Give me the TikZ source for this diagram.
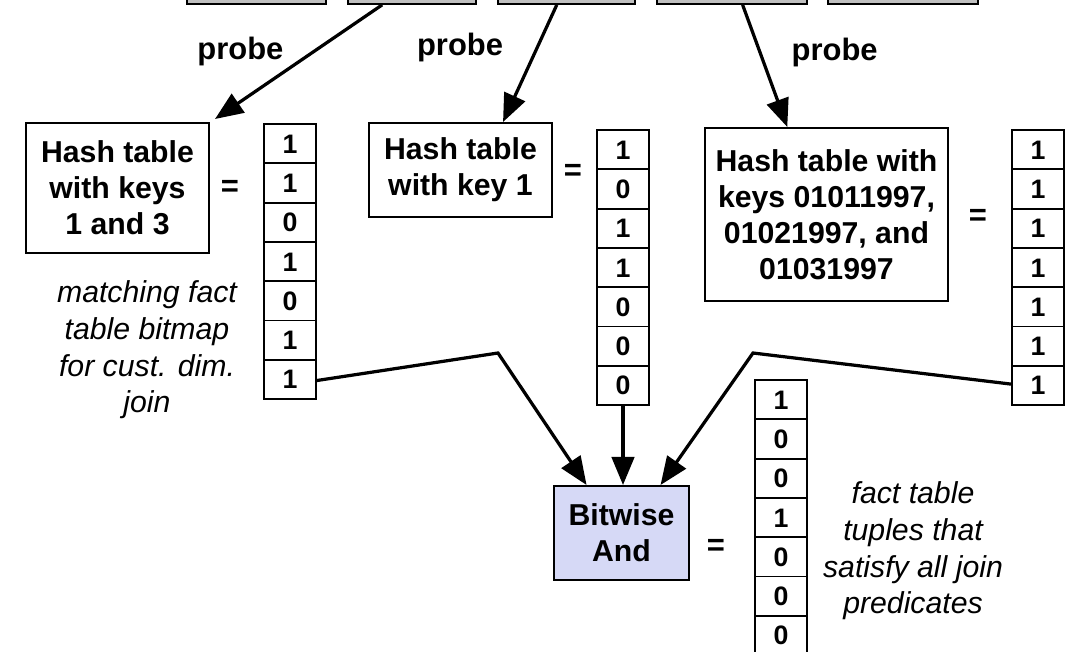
\documentclass[tikz,border=0pt]{standalone}
\usepackage{fontspec}
\setmainfont{Liberation Sans}
\usetikzlibrary{arrows.meta,shapes.multipart,positioning,calc}

\definecolor{dimgrey}{RGB}{192,192,192}
\definecolor{andblue}{RGB}{214,217,246}

\newcommand{\bitc}[1]{\rule[-6.5pt]{0pt}{26.55pt}#1}
\newcommand{\bitcol}[7]{\bitc{#1}\nodepart{two}\bitc{#2}\nodepart{three}\bitc{#3}\nodepart{four}\bitc{#4}\nodepart{five}\bitc{#5}\nodepart{six}\bitc{#6}\nodepart{seven}\bitc{#7}}

\tikzset{
  dimbox/.style={draw, fill=dimgrey, line width=1.2pt, minimum height=1cm},
  hashbox/.style={draw, line width=1.4pt, align=center, font=\bfseries\fontsize{21.5}{25.6}\selectfont},
  bitmap/.style={draw, line width=1.4pt, rectangle split, rectangle split parts=7, minimum width=1.3cm,
    inner xsep=0pt, inner ysep=0pt, anchor=north, font=\bfseries\fontsize{19}{20}\selectfont},
  eqsign/.style={font=\bfseries\fontsize{22}{25}\selectfont},
  note/.style={align=center, font=\itshape\fontsize{21.5}{26}\selectfont},
  lbl/.style={font=\bfseries\fontsize{22}{24}\selectfont},
  probearrow/.style={-{Triangle[length=20pt,width=16pt]}, line width=2.3pt},
  joinarrow/.style={-{Triangle[length=20pt,width=16pt]}, line width=2.3pt}
}

\begin{document}
\begin{tikzpicture}[x=0.025cm, y=-0.025cm]
\useasboundingbox (0,0) rectangle (1068,652);

% dimension tables, cut off by the top edge
\node[dimbox, minimum width=3.475cm] (dim1) at (256.5,-16) {};
\node[dimbox, minimum width=3.2cm] (dim2) at (412,-16) {};
\node[dimbox, minimum width=3.425cm] (dim3) at (566.5,-16) {};
\node[dimbox, minimum width=3.75cm] (dim4) at (732,-16) {};
\node[dimbox, minimum width=3.75cm] (dim5) at (903,-16) {};

% customer
\node[hashbox, minimum width=4.575cm, minimum height=3.25cm] (hashA) at (117.5,188) {Hash table\\with keys\\1 and 3};
\node[eqsign] (eqA) at (230,188) {=};
\node[bitmap] (bitsA) at (290,123) {\bitcol1101011};
\node[note] (noteA) at (147,350) {matching fact\\table bitmap\\for cust. dim.\\join};

% key 1
\node[hashbox, minimum width=4.575cm, minimum height=2.35cm] (hashB) at (460.5,170) {Hash table\\with key 1};
\node[eqsign] (eqB) at (573,172) {=};
\node[bitmap] (bitsB) at (623,129) {\bitcol1011000};

% dates
\node[hashbox, minimum width=6.075cm, minimum height=4.325cm] (hashC) at (826.5,214.5) {Hash table with\\keys 01011997,\\01021997, and\\01031997};
\node[eqsign] (eqC) at (978,217) {=};
\node[bitmap] (bitsC) at (1038,129) {\bitcol1111111};

% result
\node[hashbox, fill=andblue, minimum width=3.375cm, minimum height=2.35cm] (andBox) at (621.5,533) {Bitwise\\And};
\node[eqsign] (eqD) at (716,547) {=};
\node[bitmap] (bitsD) at (781,379) {\bitcol1001000};
\node[note] (noteD) at (913,551) {fact table\\tuples that\\satisfy all join\\predicates};

% probes
\draw[probearrow] ($(dim2.south west)!.27!(dim2.south east)$) -- node[lbl, pos=.41, left=17pt] {probe} ($(hashA.north east)+(5,-3)$);
\draw[probearrow] ($(dim3.south west)!.43!(dim3.south east)$) -- node[lbl, pos=.36, left=20pt] {probe} ($(hashB.north west)!.73!(hashB.north east)$);
\draw[probearrow] ($(dim4.south west)!.57!(dim4.south east)$) -- node[lbl, pos=.39, right=18pt] {probe} ($(hashC.north west)!.34!(hashC.north east)$);

% bitmaps into the and
\coordinate (bendA) at (498,353);
\coordinate (bendC) at (753,353);
\draw[joinarrow] ($(bitsA.south east)+(0,-19.6)$) -- (bendA) -- ($(andBox.north west)!.245!(andBox.north east)$);
\draw[joinarrow] (bitsB.south) -- (bitsB.south |- andBox.north);
\draw[joinarrow] ($(bitsC.south west)+(0,-22)$) -- (bendC) -- ($(andBox.north west)!.785!(andBox.north east)$);
\end{tikzpicture}
\end{document}
